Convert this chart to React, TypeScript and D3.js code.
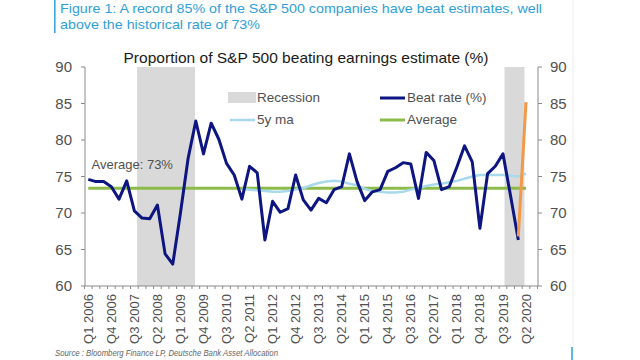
import React from "react";
import * as d3 from "d3";

// Quarters Q1 2006 .. Q2 2020 (plus one empty slot Q3 2020 on the axis)
const years = d3.range(2006, 2021);
const quarters: string[] = [];
years.forEach((y) => [1, 2, 3, 4].forEach((q) => quarters.push(`Q${q} ${y}`)));
const categories = quarters.slice(0, 58); // up to Q2 2020

const tickLabels = [
  "Q1 2006", "Q4 2006", "Q3 2007", "Q2 2008", "Q1 2009", "Q4 2009", "Q3 2010",
  "Q2 2011", "Q1 2012", "Q4 2012", "Q3 2013", "Q2 2014", "Q1 2015", "Q4 2015",
  "Q3 2016", "Q2 2017", "Q1 2018", "Q4 2018", "Q3 2019", "Q2 2020",
];

// Beat rate (%) Q1 2006 .. Q1 2020
const beatRate = [
  74.6, 74.3, 74.3, 73.6, 71.9, 74.4, 70.3, 69.3, 69.2, 71.1,
  64.4, 63.0, 70.0, 77.5, 82.6, 78.1, 82.3, 80.1, 76.8, 75.2,
  71.9, 76.4, 75.5, 66.3, 71.6, 70.1, 70.6, 75.2, 71.8, 70.4,
  72.0, 71.4, 73.2, 73.6, 78.1, 74.3, 71.7, 72.9, 73.2, 75.7,
  76.2, 76.9, 76.7, 72.0, 78.3, 77.2, 73.2, 73.6, 76.3, 79.2,
  77.0, 67.9, 75.4, 76.4, 78.1, 72.3, 66.3,
];

// Latest (Q1 2020 -> Q2 2020) segment in orange
const latestQuarters = ["Q1 2020", "Q2 2020"];
const latestValues = [66.8, 85.2];

// 5y moving average, Q1 2011 .. Q2 2020
const maStart = "Q1 2011";
const maValues = [
  73.3, 73.2, 73.1, 73.0, 72.9, 72.9, 73.0, 73.2, 73.4, 73.8,
  74.1, 74.3, 74.4, 74.3, 74.0, 73.8, 73.3, 73.0, 72.9, 72.8,
  72.8, 72.9, 73.2, 73.4, 73.7, 73.9, 74.0, 74.2, 74.4, 74.7,
  75.0, 75.2, 75.2, 75.2, 75.2, 75.1, 75.0, 75.4,
];

const averageValue = 73.4;

// Recession shading, in quarter-index units
const recessionStart = [6.35, 54.2];
const recessionEnd = [13.9, 56.8];

const yTicks = [60, 65, 70, 75, 80, 85, 90];

export default function App() {
  const W = 640;
  const H = 360;
  const x = d3.scaleLinear().domain([0, 57]).range([88.3, 526]);
  const y = d3.scaleLinear().domain([60, 90]).range([286, 67]);
  const axisL = 85;
  const axisR = 538;

  const line = d3
    .line<[number, number]>()
    .x((d) => x(d[0]))
    .y((d) => y(d[1]));

  const beatPts: [number, number][] = beatRate.map((v, i) => [i, v]);
  const maIdx0 = categories.indexOf(maStart);
  const maPts: [number, number][] = maValues.map((v, i) => [maIdx0 + i, v]);
  const latestPts: [number, number][] = latestQuarters.map((q, i) => [
    categories.indexOf(q),
    latestValues[i],
  ]);
  const avgPts: [number, number][] = [
    [0, averageValue],
    [categories.length - 1, averageValue],
  ];

  const minorTicks = d3.range(0, 60).map((i) => i - 0.5);

  const font = "'Liberation Sans', Arial, sans-serif";
  const navy = "#0c1580";
  const lightBlue = "#a9d9ec";
  const green = "#8dbb4a";
  const orange = "#f2994a";
  const grey = "#d9d9d9";
  const axisColor = "#8a8a8a";
  const labelColor = "#505050";

  return (
    <svg
      width={W}
      height={H}
      style={{ position: "absolute", left: 0, top: 0, background: "#fff" }}
      fontFamily={font}
    >
      {/* Page decorations */}
      <rect x={54} y={0} width={1.6} height={33} fill="#3aa6da" />
      <line x1={573} y1={0} x2={573} y2={345} stroke="#ececec" strokeWidth={1} />
      <rect x={571} y={347} width={2} height={13} fill="#5cb8e6" />

      <text x={60} y={12.5} fontSize={13.5} fill="#2fa0d8" textLength={482} lengthAdjust="spacingAndGlyphs">
        Figure 1: A record 85% of the S&amp;P 500 companies have beat estimates, well
      </text>
      <text x={60} y={29.3} fontSize={13.5} fill="#2fa0d8" textLength={200} lengthAdjust="spacingAndGlyphs">
        above the historical rate of 73%
      </text>

      <text x={123.5} y={63} fontSize={14.5} fill="#1a1a1a" textLength={365} lengthAdjust="spacingAndGlyphs">
        Proportion of S&amp;P 500 beating earnings estimate (%)
      </text>

      {/* Recession shading */}
      {recessionStart.map((s, i) => (
        <rect
          key={i}
          x={x(s)}
          y={y(90)}
          width={x(recessionEnd[i]) - x(s)}
          height={y(60) - y(90)}
          fill={grey}
        />
      ))}

      {/* Axes */}
      <line x1={axisL} y1={y(90)} x2={axisL} y2={y(60)} stroke={axisColor} />
      <line x1={axisR} y1={y(90)} x2={axisR} y2={y(60)} stroke={axisColor} />
      <line x1={axisL} y1={y(60)} x2={axisR} y2={y(60)} stroke={axisColor} />
      {yTicks.map((t) => (
        <g key={t}>
          <line x1={axisL - 4} x2={axisL} y1={y(t)} y2={y(t)} stroke={axisColor} />
          <line x1={axisR} x2={axisR + 4} y1={y(t)} y2={y(t)} stroke={axisColor} />
          <text x={72} y={y(t)} dy="0.35em" fontSize={15} fill={labelColor} textAnchor="end">
            {t}
          </text>
          <text x={550} y={y(t)} dy="0.35em" fontSize={15} fill={labelColor} textAnchor="start">
            {t}
          </text>
        </g>
      ))}
      {minorTicks.map((t) => (
        <line key={t} x1={x(t)} x2={x(t)} y1={y(60)} y2={y(60) + 3} stroke={axisColor} />
      ))}
      {tickLabels.map((lab) => {
        const i = categories.indexOf(lab);
        return (
          <text
            key={lab}
            transform={`translate(${x(i)},${294}) rotate(-90)`}
            dy="0.35em"
            fontSize={13}
            fill={labelColor}
            textAnchor="end"
          >
            {lab}
          </text>
        );
      })}

      {/* Series */}
      <path d={line(avgPts) || ""} fill="none" stroke={green} strokeWidth={3} />
      <path d={line(maPts) || ""} fill="none" stroke={lightBlue} strokeWidth={2.5} />
      <path d={line(beatPts) || ""} fill="none" stroke={navy} strokeWidth={3} strokeLinejoin="round" />
      <path d={line(latestPts) || ""} fill="none" stroke={orange} strokeWidth={3} />

      <text x={91.5} y={169} fontSize={13} fill={labelColor}>
        Average: 73%
      </text>

      {/* Legend */}
      <rect x={228} y={92} width={28} height={11} fill={grey} />
      <text x={257} y={102} fontSize={13.5} fill={labelColor}>Recession</text>
      <line x1={230} x2={255} y1={120} y2={120} stroke={lightBlue} strokeWidth={2.5} />
      <text x={257} y={124} fontSize={13.5} fill={labelColor}>5y ma</text>
      <line x1={380} x2={405} y1={98} y2={98} stroke={navy} strokeWidth={3} />
      <text x={407} y={102} fontSize={13.5} fill={labelColor}>Beat rate (%)</text>
      <line x1={380} x2={405} y1={120} y2={120} stroke={green} strokeWidth={3} />
      <text x={407} y={124} fontSize={13.5} fill={labelColor}>Average</text>

      <text x={55} y={356} fontSize={8.5} fontStyle="italic" fill="#666" textLength={223} lengthAdjust="spacingAndGlyphs">
        Source : Bloomberg Finance LP, Deutsche Bank Asset Allocation
      </text>
    </svg>
  );
}
